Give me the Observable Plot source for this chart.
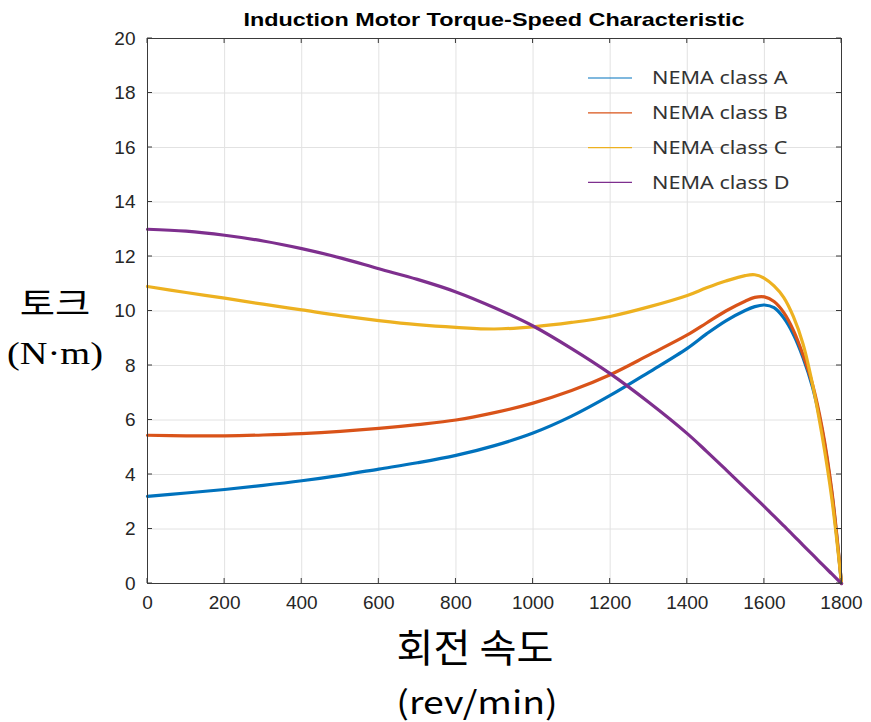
<!DOCTYPE html>
<html>
<head>
<meta charset="utf-8">
<script src="https://cdn.jsdelivr.net/npm/d3@7"></script>
<script src="https://cdn.jsdelivr.net/npm/@observablehq/plot@0.6"></script>
<style>
  body { margin: 0; background: #fff; }
  #chart svg { display: block; }
</style>
</head>
<body>
<div id="chart"></div>
<script>
// ---- data ----
const speed  = [0, 100, 200, 300, 400, 500, 600, 700, 800, 900, 1000, 1100, 1200, 1300, 1400, 1450, 1500, 1550, 1575, 1600, 1625, 1650, 1675, 1700, 1725, 1750, 1775, 1800];
const classA = [3.2, 3.32, 3.45, 3.6, 3.77, 3.97, 4.2, 4.43, 4.7, 5.06, 5.52, 6.14, 6.9, 7.75, 8.63, 9.16, 9.64, 10.02, 10.16, 10.22, 10.12, 9.75, 9.15, 8.3, 7.2, 5.6, 3.3, 0];
const classB = [5.44, 5.42, 5.42, 5.45, 5.5, 5.58, 5.69, 5.83, 6.0, 6.27, 6.62, 7.08, 7.66, 8.38, 9.12, 9.56, 10.0, 10.36, 10.5, 10.52, 10.35, 9.95, 9.3, 8.4, 7.3, 5.7, 3.4, 0];
const classC = [10.9, 10.68, 10.47, 10.25, 10.04, 9.83, 9.65, 9.5, 9.4, 9.34, 9.42, 9.58, 9.8, 10.15, 10.57, 10.85, 11.1, 11.3, 11.33, 11.2, 10.92, 10.5, 9.8, 8.8, 7.3, 5.4, 3.1, 0];
const classD = [13.0, 12.93, 12.78, 12.57, 12.29, 11.95, 11.55, 11.16, 10.7, 10.12, 9.45, 8.62, 7.7, 6.65, 5.5, 4.85, 4.18, 3.5, 3.16, 2.82, 2.47, 2.12, 1.77, 1.41, 1.06, 0.7, 0.35, 0];
const seriesNames  = ["NEMA class A", "NEMA class B", "NEMA class C", "NEMA class D"];
const seriesColors = ["#0072BD", "#D95319", "#EDB120", "#7E2F8E"];
const xTicks = [0, 200, 400, 600, 800, 1000, 1200, 1400, 1600, 1800];
const yTicks = [0, 2, 4, 6, 8, 10, 12, 14, 16, 18, 20];
const titleText = "Induction Motor Torque-Speed Characteristic";
const xLabel1 = "회전 속도";
const xLabel2 = "(rev/min)";
const yLabel1 = "토크";
const yLabel2 = "(N·m)";

const table = [];
[classA, classB, classC, classD].forEach((vals, i) =>
  vals.forEach((v, j) => table.push({speed: speed[j], torque: v, series: seriesNames[i]}))
);

const inkColor = "#262626";
const tickFont = "'Liberation Sans', Arial, Helvetica, sans-serif";

const plot = Plot.plot({
  width: 871,
  height: 722,
  marginLeft: 147,
  marginRight: 30,
  marginTop: 38,
  marginBottom: 139,
  style: {fontFamily: tickFont, background: "#fff", color: inkColor, overflow: "visible"},
  x: {domain: [0, 1800], ticks: xTicks, tickFormat: d => String(d)},
  y: {domain: [0, 20], ticks: yTicks, tickFormat: d => String(d)},
  color: {domain: seriesNames, range: seriesColors},
  marks: [
    Plot.gridX(xTicks, {stroke: "#e2e2e2", strokeOpacity: 1}),
    Plot.gridY(yTicks, {stroke: "#e2e2e2", strokeOpacity: 1}),
    Plot.axisX(xTicks, {tickSize: 0, tickPadding: 12, fontSize: 19, label: null, fill: inkColor, tickFormat: d => String(d)}),
    Plot.axisY(yTicks, {tickSize: 0, tickPadding: 12, fontSize: 19, label: null, fill: inkColor, tickFormat: d => String(d)}),
    Plot.line(table, {x: "speed", y: "torque", z: "series", stroke: "series", strokeWidth: 3.2, curve: "catmull-rom"}),
    Plot.frame({stroke: "#3a3a3a", strokeWidth: 1})
  ]
});

document.getElementById("chart").appendChild(plot);

const svg = d3.select(plot);
const sx = plot.scale("x");
const sy = plot.scale("y");
const x0 = sx.apply(0), x1 = sx.apply(1800);
const y0 = sy.apply(0), y1 = sy.apply(20);

// inward ticks on all four sides
const tk = svg.append("g").attr("stroke", "#3a3a3a").attr("stroke-width", 1);
xTicks.forEach(v => {
  const x = sx.apply(v);
  tk.append("line").attr("x1", x).attr("x2", x).attr("y1", y0).attr("y2", y0 - 5);
  tk.append("line").attr("x1", x).attr("x2", x).attr("y1", y1).attr("y2", y1 + 5);
});
yTicks.forEach(v => {
  const y = sy.apply(v);
  tk.append("line").attr("y1", y).attr("y2", y).attr("x1", x0).attr("x2", x0 + 5);
  tk.append("line").attr("y1", y).attr("y2", y).attr("x1", x1).attr("x2", x1 - 5);
});

function addText(txt, x, y, size, family, weight, sxf, anchor) {
  return svg.append("text")
    .attr("transform", `translate(${x},${y}) scale(${sxf},1)`)
    .attr("text-anchor", anchor || "middle")
    .attr("font-family", family)
    .attr("font-size", size)
    .attr("font-weight", weight || "normal")
    .attr("fill", "#000")
    .text(txt);
}

const cx = (x0 + x1) / 2;
// title
addText(titleText, cx, 26, 18, "'Liberation Sans', Arial, sans-serif", "bold", 1.3);
// x label
addText(xLabel1, 475, 662, 39, "'Noto Sans CJK KR', sans-serif", "normal", 1.03);
addText(xLabel2, 477, 714, 32, "'Noto Sans CJK KR', sans-serif", "normal", 1.17);
// y label
addText(yLabel1, 55, 315, 32, "'Noto Sans CJK KR', sans-serif", "normal", 1.2);
addText(yLabel2, 55, 364, 32, "'Liberation Serif', 'Times New Roman', serif", "normal", 1.2);

// legend (no box)
const lg = svg.append("g");
seriesNames.forEach((name, i) => {
  const y = 78 + i * 34.8;
  lg.append("line").attr("x1", 588).attr("x2", 632).attr("y1", y).attr("y2", y)
    .attr("stroke", seriesColors[i]).attr("stroke-width", 1.2);
  lg.append("text")
    .attr("transform", `translate(652,${y}) scale(1.2,1)`)
    .attr("text-anchor", "start")
    .attr("dy", "0.36em")
    .attr("font-family", "'Noto Sans', sans-serif")
    .attr("font-size", 18)
    .attr("fill", "#333")
    .text(name);
});
</script>
</body>
</html>
